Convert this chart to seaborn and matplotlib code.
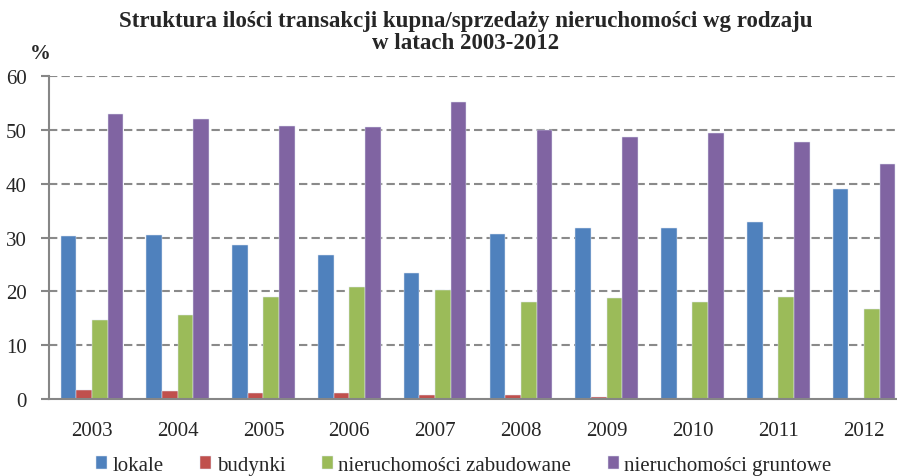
import numpy as np
import pandas as pd
import seaborn as sns
import matplotlib.pyplot as plt

# dane
lata = ["2003", "2004", "2005", "2006", "2007", "2008", "2009", "2010", "2011", "2012"]
lokale = [30.3, 30.5, 28.6, 26.8, 23.5, 30.7, 31.8, 31.8, 32.9, 39.0]
budynki = [1.7, 1.4, 1.2, 1.1, 0.7, 0.7, 0.4, 0.1, 0.15, 0.15]
zabudowane = [14.7, 15.6, 19.0, 20.8, 20.2, 18.1, 18.7, 18.0, 18.9, 16.7]
gruntowe = [52.9, 52.0, 50.8, 50.6, 55.2, 50.0, 48.7, 49.5, 47.7, 43.7]
rodzaje = ["lokale", "budynki", "nieruchomości zabudowane", "nieruchomości gruntowe"]
kolory = ["#4F81BD", "#C0504D", "#9BBB59", "#8064A2"]

df = pd.DataFrame({"rok": lata * 4,
                   "rodzaj": np.repeat(rodzaje, len(lata)),
                   "wartosc": lokale + budynki + zabudowane + gruntowe})

sns.set_style("white")
plt.rcParams["font.family"] = ["Liberation Serif", "DejaVu Serif"]

fig = plt.figure(figsize=(8.97, 4.77), dpi=100)
ax = fig.add_axes([0.0546, 0.1614, 0.9565, 0.6771])

sns.barplot(data=df, x="rok", y="wartosc", hue="rodzaj", palette=kolory,
            width=0.73, gap=0, saturation=1, edgecolor="#dfe6f2", linewidth=0.35,
            ax=ax, zorder=3)

ax.set_xlim(-0.5, 9.5)
ax.set_ylim(0, 60)
ax.set_yticks(range(0, 61, 10))
ax.set_xlabel("")
ax.set_ylabel("")

# siatka
for v in range(10, 61, 10):
    ax.axhline(v, color="#8a8a8a", lw=1.5, ls=(0, (4, 2)), zorder=1)

for s in ["top", "right"]:
    ax.spines[s].set_visible(False)
for s in ["left", "bottom"]:
    ax.spines[s].set_color("#868686")
    ax.spines[s].set_linewidth(1.5)
    ax.spines[s].set_zorder(4)

ax.set_xticks(np.arange(-0.5, 10, 1), minor=True)
ax.tick_params(axis="x", which="major", length=0, pad=16, labelsize=15)
ax.tick_params(axis="x", which="minor", length=6, width=1.5, color="#868686", direction="out")
ax.tick_params(axis="y", length=6, width=1.5, color="#868686", direction="out", pad=10, labelsize=15, left=True)

fig.text(0.519, 0.932, "Struktura ilości transakcji kupna/sprzedaży nieruchomości wg rodzaju\nw latach 2003-2012",
         ha="center", va="center", fontsize=16.5, fontweight="bold", linespacing=1.05)
fig.text(0.045, 0.887, "%", ha="center", va="center", fontsize=15, fontweight="bold")

ax.legend(loc="center", bbox_to_anchor=(0.517, 0.022), bbox_transform=fig.transFigure,
          ncol=4, frameon=False, fontsize=15, handlelength=0.55, handleheight=0.55,
          handletextpad=0.25, columnspacing=1.75, borderaxespad=0)

fig.savefig("out.png", dpi=100)
